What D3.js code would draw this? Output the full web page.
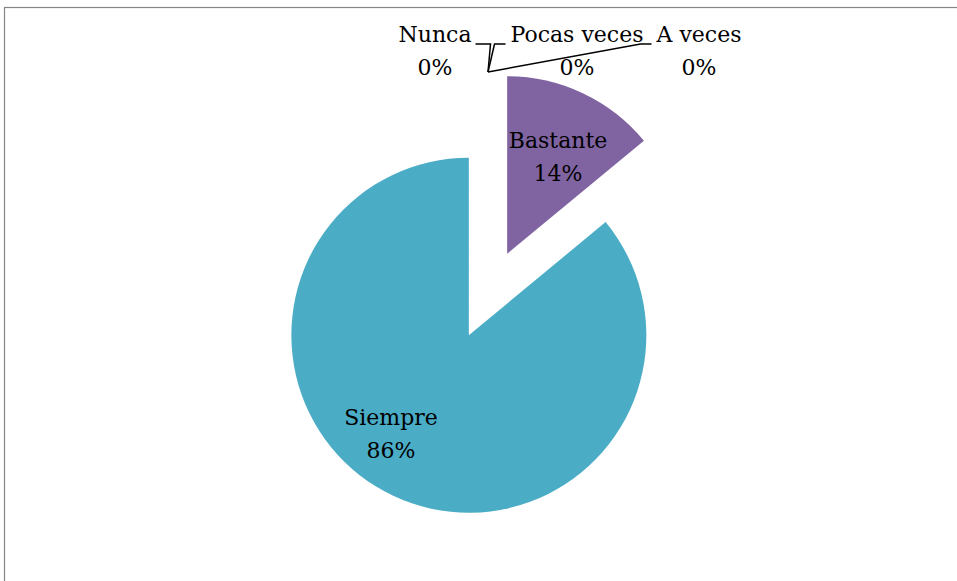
<!DOCTYPE html>
<html>
<head>
<meta charset="utf-8">
<script src="https://cdn.jsdelivr.net/npm/d3@7/dist/d3.min.js"></script>
<style>
  html, body { margin: 0; padding: 0; background: #fff; }
  svg { display: block; }
  text { font-family: "DejaVu Serif", "Liberation Serif", serif; font-size: 22px; fill: #000; }
</style>
</head>
<body>
<svg id="chart" width="957" height="581"></svg>
<script>
// Survey answers and their shares (percent)
const categories = ["Nunca", "Pocas veces", "A veces", "Bastante", "Siempre"];
const values = [0, 0, 0, 14, 86];
const colors = ["#4F81BD", "#C0504D", "#9BBB59", "#8064A2", "#4BACC6"];

// Label placement: centre x and first-line baseline of each two-line label
const labelPos = [
  { x: 435, y: 42, side: "right" },
  { x: 577, y: 42, side: "left" },
  { x: 699, y: 42, side: "left" },
  { x: 558, y: 148 },
  { x: 391, y: 425 }
];

const width = 957, height = 581;
const cx = 488, cy = 294.5, radius = 177.5, explode = 45, lineGap = 33;

const svg = d3.select("#chart");

// Outer frame (top and left edges visible)
svg.append("rect")
  .attr("x", 4.5).attr("y", 7.5)
  .attr("width", width + 20).attr("height", height + 20)
  .attr("fill", "#fff")
  .attr("stroke", "#868686")
  .attr("stroke-width", 1.2);

const total = d3.sum(values);
const pie = d3.pie().sort(null).value(d => d).startAngle(0).endAngle(2 * Math.PI);
const arcs = pie(values);
const arc = d3.arc().innerRadius(0).outerRadius(radius);

const polar = (a, r) => [Math.sin(a) * r, -Math.cos(a) * r];

const g = svg.append("g").attr("transform", `translate(${cx},${cy})`);

// Every slice is pulled out from the centre along its mid angle
g.selectAll("path.slice")
  .data(arcs)
  .join("path")
  .attr("class", "slice")
  .attr("fill", (d, i) => colors[i])
  .attr("transform", d => {
    const [dx, dy] = polar((d.startAngle + d.endAngle) / 2, explode);
    return `translate(${dx},${dy})`;
  })
  .attr("d", arc);

// Percentage labels
const fmt = v => Math.round(v / total * 100) + "%";
const labels = svg.append("g");
arcs.forEach((d, i) => {
  const p = labelPos[i];
  const t = labels.append("text")
    .attr("x", p.x).attr("y", p.y)
    .attr("text-anchor", "middle");
  t.append("tspan").attr("x", p.x).attr("dy", 0).text(categories[i]);
  t.append("tspan").attr("x", p.x).attr("dy", lineGap).text(fmt(d.value));

  // Leader lines for the empty slices run to their point on the exploded rim
  if (d.value === 0) {
    const w = t.select("tspan").node().getComputedTextLength();
    const mid = (d.startAngle + d.endAngle) / 2;
    const [ax, ay] = polar(mid, radius + explode);
    const anchor = [cx + ax, cy + ay];
    const ly = p.y + 2;
    let start, knee;
    if (p.side === "right") {
      start = [p.x + w / 2 + 4, ly];
      knee = [start[0] + 15, ly];
    } else {
      start = [p.x - w / 2 - 5, ly];
      knee = [start[0] - 11, ly];
    }
    svg.append("path")
      .attr("d", d3.line()([start, knee, anchor]))
      .attr("fill", "none")
      .attr("stroke", "#000")
      .attr("stroke-width", 1.5);
  }
});
</script>
</body>
</html>
